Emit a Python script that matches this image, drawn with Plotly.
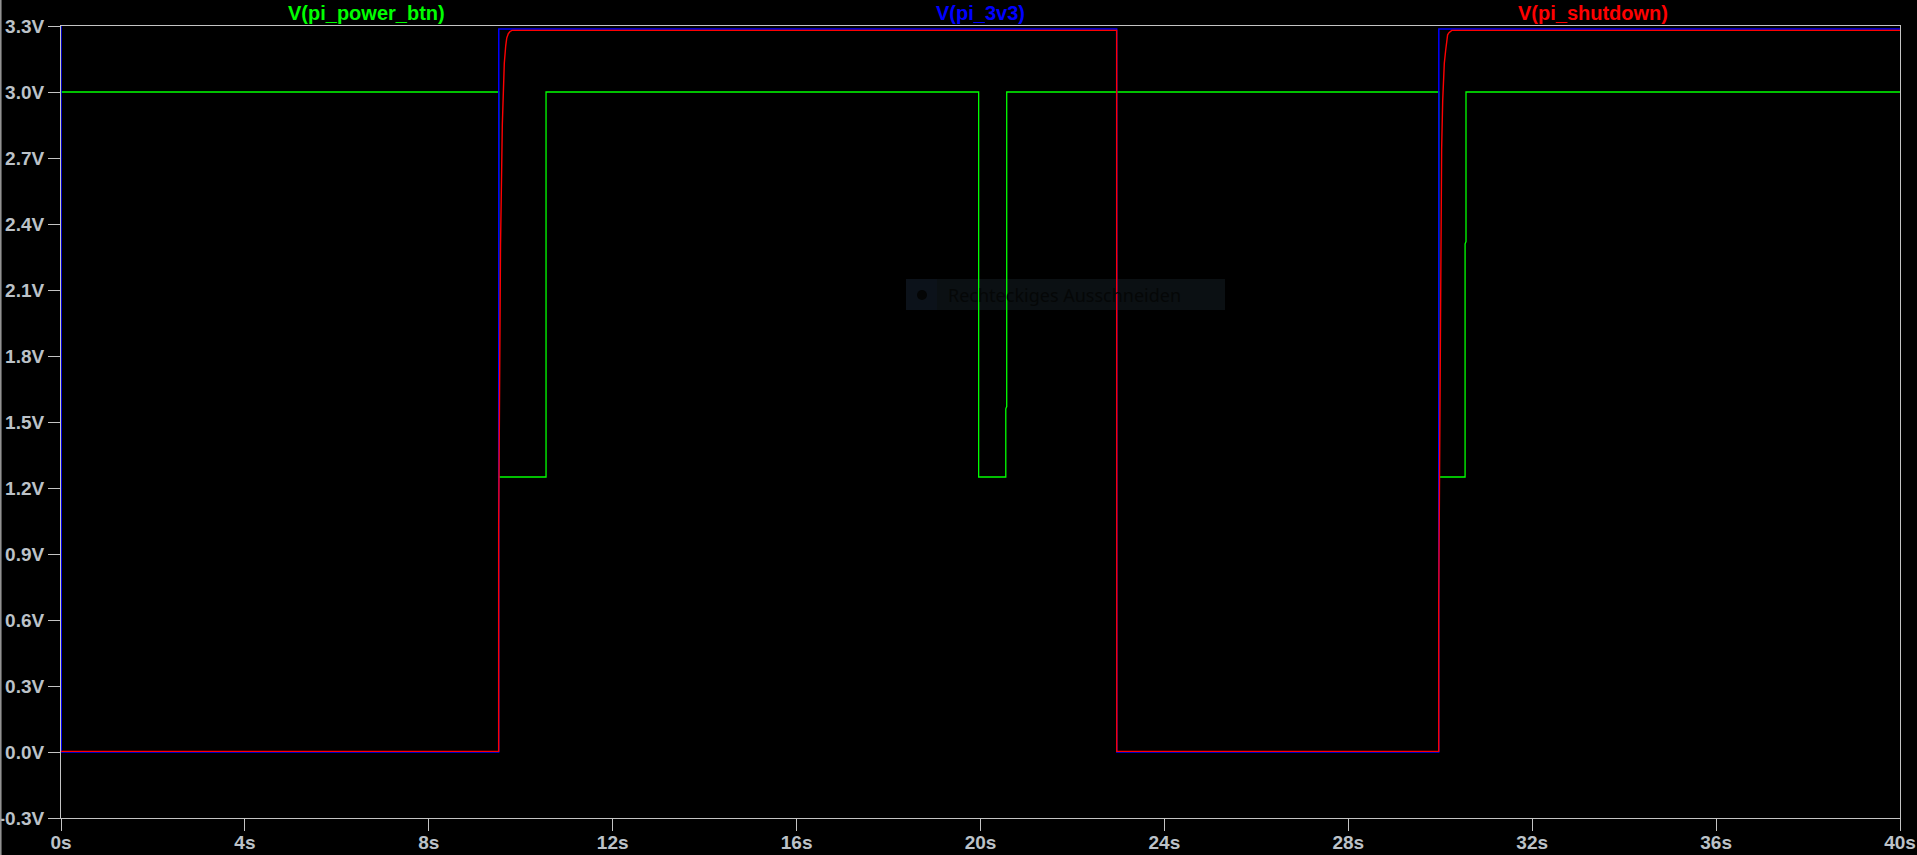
import plotly.graph_objects as go

# ---- data ----
t_btn = [0, 9.52, 9.52, 10.55, 10.55, 19.96, 19.96, 20.55, 20.55, 20.57, 20.57,
         29.967, 29.967, 30.54, 30.54, 30.56, 30.56, 40]
v_btn = [3.0, 3.0, 1.25, 1.25, 3.0, 3.0, 1.25, 1.25, 1.56, 1.57, 3.0,
         3.0, 1.25, 1.25, 2.31, 2.32, 3.0, 3.0]

t_3v3 = [0, 0.005, 9.52, 9.522, 22.962, 22.964, 29.967, 29.969, 40]
v_3v3 = [3.3, 0.0, 0.0, 3.286, 3.286, 0.0, 0.0, 3.286, 3.286]

t_shd = [0, 9.52, 9.52, 9.56, 9.599, 9.62, 9.642, 9.673, 9.695, 9.729, 9.766, 9.81,
         22.962, 22.964, 29.967, 29.967, 29.99, 30.01, 30.03, 30.053, 30.088, 30.118,
         30.14, 30.16, 30.19, 30.227, 30.25, 40]
v_shd = [0.003, 0.003, 1.03, 2.3, 2.85, 3.02, 3.13, 3.21, 3.245, 3.265, 3.275, 3.28,
         3.28, 0.003, 0.003, 0.68, 1.69, 2.3, 2.74, 2.96, 3.13, 3.19,
         3.23, 3.26, 3.27, 3.275, 3.28, 3.28]

x_ticks = [0, 4, 8, 12, 16, 20, 24, 28, 32, 36, 40]
x_labels = ["0s", "4s", "8s", "12s", "16s", "20s", "24s", "28s", "32s", "36s", "40s"]
y_ticks = [-0.3, 0.0, 0.3, 0.6, 0.9, 1.2, 1.5, 1.8, 2.1, 2.4, 2.7, 3.0, 3.3]
y_labels = ["-0.3V", "0.0V", "0.3V", "0.6V", "0.9V", "1.2V", "1.5V", "1.8V",
            "2.1V", "2.4V", "2.7V", "3.0V", "3.3V"]

trace_names = ["V(pi_power_btn)", "V(pi_3v3)", "V(pi_shutdown)"]
trace_colors = ["#00ff00", "#0000ff", "#ff0000"]

# ---- figure ----
W, H = 1917, 855
ML, MR, MT, MB = 61, 17, 26, 37
PW, PH = W - ML - MR, H - MT - MB

fig = go.Figure()
for tt, vv, name, col, lw in [(t_btn, v_btn, trace_names[0], trace_colors[0], 1.3),
                              (t_3v3, v_3v3, trace_names[1], trace_colors[1], 1.5),
                              (t_shd, v_shd, trace_names[2], trace_colors[2], 1.4)]:
    fig.add_trace(go.Scatter(x=tt, y=vv, mode="lines", name=name,
                             line=dict(color=col, width=lw), showlegend=False,
                             hoverinfo="skip"))
# empty trace that carries the overlay axis used for the long x tick marks
fig.add_trace(go.Scatter(x=[], y=[], xaxis="x2", yaxis="y", showlegend=False,
                         hoverinfo="skip"))

axis_col = "#c4c4c4"
label_font = dict(family="Liberation Sans, Arial, sans-serif", size=19,
                  color="#bcc2c8", weight="bold")

fig.update_layout(
    xaxis=dict(range=[0, 40], tickvals=x_ticks, ticktext=x_labels,
               showgrid=False, zeroline=False, showline=True, mirror=True,
               linecolor=axis_col, linewidth=1, ticks="outside", ticklen=7,
               tickcolor="rgba(0,0,0,0)", tickfont=label_font, automargin=False),
    xaxis2=dict(range=[0, 40], tickvals=x_ticks, overlaying="x", anchor="y",
                side="bottom", showgrid=False, zeroline=False, showline=False,
                ticks="outside", ticklen=12, tickcolor=axis_col,
                showticklabels=False, automargin=False),
    yaxis=dict(range=[-0.3, 3.3], tickvals=y_ticks, ticktext=y_labels,
               showgrid=False, zeroline=False, showline=True, mirror=True,
               linecolor=axis_col, linewidth=1, ticks="outside", ticklen=12,
               tickcolor=axis_col, tickfont=label_font, automargin=False),
)

title_font = dict(family="Liberation Sans, Arial, sans-serif", size=20, weight="bold")
for name, col, xc in zip(trace_names, trace_colors, [366, 980, 1593]):
    fig.add_annotation(text=name, xref="paper", yref="paper",
                       x=(xc - ML) / PW, y=1 + 13 / PH, xanchor="center",
                       yanchor="middle", showarrow=False,
                       font=dict(color=col, **title_font))

# faint "Rechteckiges Ausschneiden" tooltip overlay
def px_x(p):
    return (p - ML) / PW

def px_y(p):
    return 1 - (p - MT) / PH

fig.add_shape(type="rect", xref="paper", yref="paper",
              x0=px_x(906), x1=px_x(1225), y0=px_y(310), y1=px_y(279),
              fillcolor="#0b1013", line=dict(width=0), layer="below")
fig.add_shape(type="rect", xref="paper", yref="paper",
              x0=px_x(906), x1=px_x(937), y0=px_y(310), y1=px_y(279),
              fillcolor="#0c121a", line=dict(width=0), layer="below")
fig.add_shape(type="circle", xref="paper", yref="paper",
              x0=px_x(917), x1=px_x(927), y0=px_y(300), y1=px_y(290),
              fillcolor="#040505", line=dict(width=0), layer="below")
fig.add_annotation(text="Rechteckiges Ausschneiden", xref="paper", yref="paper",
                   x=px_x(946), y=px_y(295), xanchor="left", yanchor="middle",
                   showarrow=False,
                   font=dict(family="Noto Sans, Open Sans, sans-serif", size=18,
                             color="#050707"))

# window border line at far left
fig.add_shape(type="line", xref="paper", yref="paper",
              x0=(0.8 - ML) / PW, x1=(0.8 - ML) / PW, y0=-MB / PH, y1=1 + MT / PH,
              line=dict(color="#9a9a9a", width=1.5))

fig.update_layout(width=W, height=H,
                  margin=dict(l=ML, r=MR, t=MT, b=MB, pad=0, autoexpand=False),
                  paper_bgcolor="#000000", plot_bgcolor="#000000",
                  showlegend=False)

fig.write_html("out.html", config={"displayModeBar": False})
